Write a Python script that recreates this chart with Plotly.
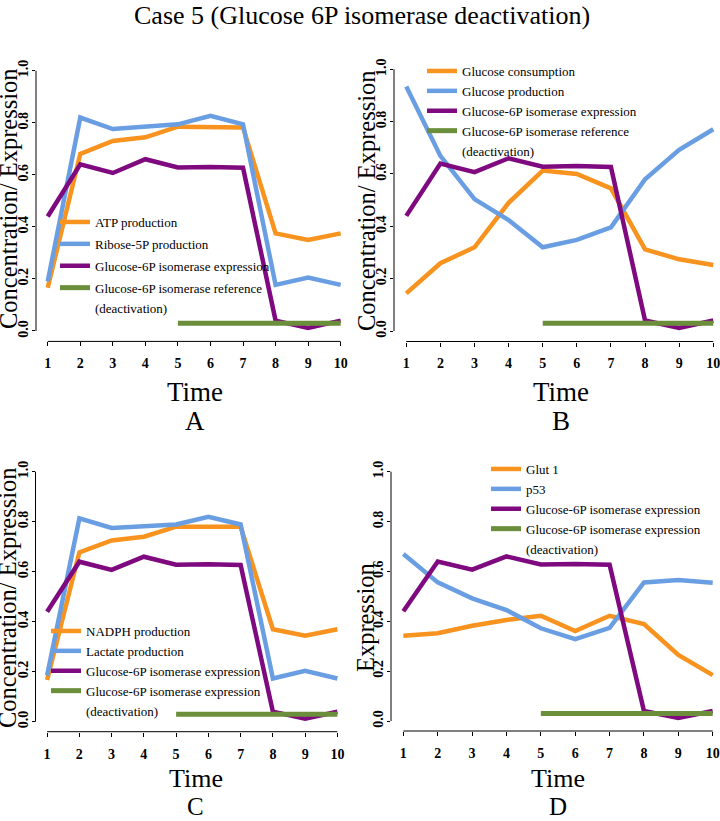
import plotly.graph_objects as go

W, H = 720, 821

# ---------------- data ----------------
time = [1, 2, 3, 4, 5, 6, 7, 8, 9, 10]
ref_time = [5, 6, 7, 8, 9, 10]
g6pi_reference = [0.03, 0.03, 0.03, 0.03, 0.03, 0.03]
g6pi_expression = [0.44, 0.64, 0.607, 0.66, 0.628, 0.63, 0.627, 0.04, 0.012, 0.04]

atp_production = [0.166, 0.68, 0.73, 0.744, 0.785, 0.782, 0.782, 0.375, 0.35, 0.375]
ribose5p_production = [0.19, 0.82, 0.776, 0.785, 0.794, 0.827, 0.794, 0.177, 0.205, 0.177]

glucose_consumption = [0.144, 0.259, 0.32, 0.49, 0.613, 0.6, 0.545, 0.312, 0.274, 0.252]
glucose_production = [0.934, 0.669, 0.504, 0.424, 0.32, 0.348, 0.396, 0.58, 0.692, 0.771]

nadph_production = [0.167, 0.677, 0.725, 0.74, 0.78, 0.778, 0.78, 0.37, 0.344, 0.37]
lactate_production = [0.185, 0.813, 0.775, 0.78, 0.789, 0.82, 0.789, 0.173, 0.204, 0.173]

glut1 = [0.342, 0.352, 0.382, 0.405, 0.422, 0.361, 0.422, 0.389, 0.265, 0.184]
p53 = [0.67, 0.556, 0.492, 0.445, 0.372, 0.328, 0.374, 0.556, 0.566, 0.555]

y_ticks = [0.0, 0.2, 0.4, 0.6, 0.8, 1.0]
y_ticktext = ["0.0", "0.2", "0.4", "0.6", "0.8", "1.0"]

ORANGE = "#F7931E"
BLUE = "#6A9EE2"
PURPLE = "#7F0A80"
GREEN = "#6B8E3B"
SERIF = "Liberation Serif"

# panel geometry (pixels)
panels = [
    dict(name="A", px=(36, 352.4), py=(60.3, 341.4), xr=(0.64, 10.36),
         series=[("ATP production", atp_production, ORANGE),
                 ("Ribose-5P production", ribose5p_production, BLUE),
                 ("Glucose-6P isomerase expression", g6pi_expression, PURPLE)],
         refname="Glucose-6P isomerase reference",
         ytitle="Concentration/ Expression", ytpos=(8, 199),
         leg=(55, 207), gap=2, tpos=(195, 392), lpos=(195, 421)),
    dict(name="B", px=(394, 720), py=(58.8, 341.5), xr=(0.64, 10.197),
         series=[("Glucose consumption", glucose_consumption, ORANGE),
                 ("Glucose production", glucose_production, BLUE),
                 ("Glucose-6P isomerase expression", g6pi_expression, PURPLE)],
         refname="Glucose-6P isomerase reference",
         ytitle="Concentration/ Expression", ytpos=(367, 201),
         leg=(422, 56), gap=0, tpos=(561, 392), lpos=(561, 421)),
    dict(name="C", px=(35.5, 349), py=(461.7, 731.7), xr=(0.64, 10.36),
         series=[("NADPH production", nadph_production, ORANGE),
                 ("Lactate production", lactate_production, BLUE),
                 ("Glucose-6P isomerase expression", g6pi_expression, PURPLE)],
         refname="Glucose-6P isomerase expression",
         ytitle="Concentration/ Expression", ytpos=(7, 598),
         leg=(46, 616), gap=0, tpos=(196, 778), lpos=(196, None)),
    dict(name="D", px=(391, 720), py=(461.7, 731), xr=(0.64, 10.212),
         series=[("Glut 1", glut1, ORANGE),
                 ("p53", p53, BLUE),
                 ("Glucose-6P isomerase expression", g6pi_expression, PURPLE)],
         refname="Glucose-6P isomerase expression",
         ytitle="Expression", ytpos=(365, 618),
         leg=(486, 454), gap=0, tpos=(558, 778), lpos=(558, None)),
]

fig = go.Figure()
annotations = []
shapes = []
layout = {}

for i, p in enumerate(panels):
    k = "" if i == 0 else str(i + 1)
    xa, ya = "x" + k, "y" + k
    leg = "legend" + k
    for j, (name, vals, col) in enumerate(p["series"]):
        fig.add_trace(go.Scatter(x=time, y=vals, mode="lines", name=name,
                                 line=dict(color=col, width=4.5),
                                 xaxis=xa, yaxis=ya, legend=leg,
                                 legendgroup=f"{p['name']}{j}"))
    fig.add_trace(go.Scatter(x=ref_time, y=g6pi_reference, mode="lines",
                             name=p["refname"], line=dict(color=GREEN, width=5),
                             xaxis=xa, yaxis=ya, legend=leg,
                             legendgroup=f"{p['name']}ref"))
    fig.add_trace(go.Scatter(x=[None], y=[None], mode="lines", name="(deactivation)",
                             line=dict(color="rgba(0,0,0,0)", width=0),
                             xaxis=xa, yaxis=ya, legend=leg, hoverinfo="skip",
                             legendgroup=f"{p['name']}ref"))

    x0, x1 = p["px"]
    yt, yb = p["py"]
    layout["xaxis" + k] = dict(
        domain=[x0 / W, x1 / W], range=list(p["xr"]), anchor=ya,
        showgrid=False, zeroline=False, showline=False,
        tickmode="array", tickvals=time, ticktext=[str(t) for t in time],
        ticks="outside", ticklen=4, tickcolor="black", tickwidth=1,
        ticklabelstandoff=5, ticklabeloverflow="allow",
        tickfont=dict(family=SERIF, size=14, color="black", weight="bold"))
    layout["yaxis" + k] = dict(
        domain=[1 - yb / H, 1 - yt / H], range=[-0.04, 1.04], anchor=xa,
        showgrid=False, zeroline=False, showline=False,
        tickmode="array", tickvals=y_ticks, ticktext=y_ticktext, tickangle=-90,
        ticks="outside", ticklen=3, tickcolor="black", tickwidth=1,
        ticklabelstandoff=-2,
        tickfont=dict(family=SERIF, size=14, color="black", weight="bold"))
    # R-style axis lines spanning first to last tick
    shapes.append(dict(type="line", xref=xa, yref=ya + " domain",
                       x0=time[0], x1=time[-1], y0=0, y1=0,
                       line=dict(color="black", width=1)))
    shapes.append(dict(type="line", xref=xa + " domain", yref=ya,
                       x0=0, x1=0, y0=y_ticks[0], y1=y_ticks[-1],
                       line=dict(color="black", width=1)))
    lx, ly = p["leg"]
    layout[leg] = dict(x=lx / W, y=1 - ly / H, xanchor="left", yanchor="top",
                       xref="paper", yref="paper", bgcolor="rgba(0,0,0,0)",
                       font=dict(family=SERIF, size=13, color="black"),
                       itemwidth=30, traceorder="grouped",
                       tracegroupgap=p["gap"])
    tx, ty = p["ytpos"]
    annotations.append(dict(text=p["ytitle"], x=tx / W, y=1 - ty / H, xref="paper",
                            yref="paper", showarrow=False, textangle=-90,
                            xanchor="center", yanchor="middle", borderpad=0,
                            font=dict(family=SERIF, size=24.5, color="black")))
    tx, ty = p["tpos"]
    if p["lpos"][1] is None:
        # bottom row: Time and panel letter stacked tightly above the page edge
        annotations.append(dict(text="Time", x=tx / W, y=1 - ty / H, xref="paper",
                                yref="paper", showarrow=False, borderpad=0,
                                xanchor="center", yanchor="middle",
                                font=dict(family=SERIF, size=26, color="black")))
        annotations.append(dict(text=p["name"], x=p["lpos"][0] / W, y=0,
                                xref="paper", yref="paper", showarrow=False,
                                borderpad=0, xanchor="center", yanchor="bottom",
                                font=dict(family=SERIF, size=25, color="black")))
    else:
        annotations.append(dict(text="Time", x=tx / W, y=1 - ty / H, xref="paper",
                                yref="paper", showarrow=False, borderpad=0,
                                xanchor="center", yanchor="middle",
                                font=dict(family=SERIF, size=27, color="black")))
        lx2, ly2 = p["lpos"]
        annotations.append(dict(text=p["name"], x=lx2 / W, y=1 - ly2 / H,
                                xref="paper", yref="paper", showarrow=False,
                                borderpad=0, xanchor="center", yanchor="middle",
                                font=dict(family=SERIF, size=27, color="black")))

annotations.append(dict(text="Case 5 (Glucose 6P isomerase deactivation)",
                        x=362 / W, y=1 - 15 / H, xref="paper", yref="paper",
                        showarrow=False, xanchor="center", yanchor="middle",
                        borderpad=0,
                        font=dict(family=SERIF, size=26, color="black")))

fig.update_layout(
    width=W, height=H, margin=dict(l=0, r=0, t=0, b=0),
    paper_bgcolor="white", plot_bgcolor="white",
    showlegend=True, annotations=annotations, shapes=shapes,
    **layout)

fig.write_html("out.html",
               config={"displayModeBar": False},
               post_script="document.body.style.margin='0px';"
                           "document.body.style.overflow='hidden';")
